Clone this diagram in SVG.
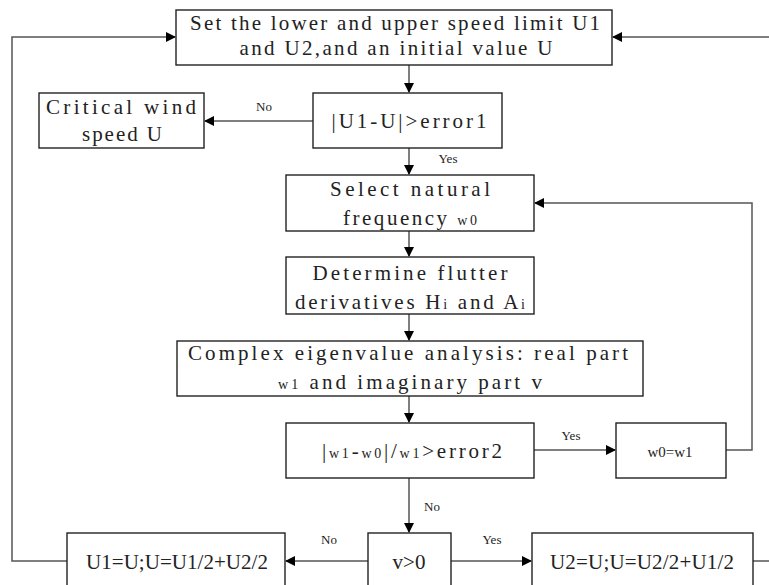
<svg xmlns="http://www.w3.org/2000/svg" width="769" height="585" viewBox="0 0 769 585">
<style>
.box{fill:#fff;stroke:#222;stroke-width:1.4}
.t{font-family:"Liberation Serif","DejaVu Serif",serif;font-size:21px;fill:#222;text-anchor:middle}
.s{font-size:14px}
.lb{font-family:"Liberation Serif","DejaVu Serif",serif;font-size:13px;fill:#222;text-anchor:middle}
.c{fill:none;stroke:#555;stroke-width:1.5}
</style>
<defs>
<marker id="ah" markerWidth="10" markerHeight="10" refX="9" refY="5" orient="auto" markerUnits="userSpaceOnUse">
<path d="M0,0 L10,5 L0,10 Z" fill="#000"/>
</marker>
</defs>
<g id="connectors">
<path class="c" d="M409,65 V92" marker-end="url(#ah)"/>
<path class="c" d="M313,121 H205" marker-end="url(#ah)"/>
<path class="c" d="M409,148 V174" marker-end="url(#ah)"/>
<path class="c" d="M409,231 V256" marker-end="url(#ah)"/>
<path class="c" d="M409,314 V340" marker-end="url(#ah)"/>
<path class="c" d="M409,396 V422" marker-end="url(#ah)"/>
<path class="c" d="M534,450 H615" marker-end="url(#ah)"/>
<path class="c" d="M726,450 H752 V203 H535" marker-end="url(#ah)"/>
<path class="c" d="M409,478 V532" marker-end="url(#ah)"/>
<path class="c" d="M368,561 H286" marker-end="url(#ah)"/>
<path class="c" d="M451,561 H531" marker-end="url(#ah)"/>
<path class="c" d="M67,561 H12 V37 H175" marker-end="url(#ah)"/>
<path class="c" d="M753,561 H769"/>
<path class="c" d="M769,37 H613" marker-end="url(#ah)"/>
<text class="lb" x="264" y="111">No</text>
<text class="lb" x="448" y="163">Yes</text>
<text class="lb" x="571" y="440">Yes</text>
<text class="lb" x="432" y="511">No</text>
<text class="lb" x="329" y="544">No</text>
<text class="lb" x="492" y="544">Yes</text>
</g>
<g id="n-start">
<rect class="box" x="176" y="10" width="436" height="55"/>
<text class="t" x="395" y="30" textLength="410" lengthAdjust="spacing">Set the lower and upper speed limit U1</text>
<text class="t" x="396" y="55" textLength="313" lengthAdjust="spacing">and U2,and an initial value U</text>
</g>
<g id="n-err1">
<rect class="box" x="313" y="93" width="189" height="55"/>
<text class="t" x="409" y="128" textLength="155" lengthAdjust="spacing">|U1-U|&gt;error1</text>
</g>
<g id="n-critical">
<rect class="box" x="39" y="93" width="165" height="55"/>
<text class="t" x="121" y="114" textLength="150" lengthAdjust="spacing">Critical wind</text>
<text class="t" x="122" y="141" textLength="80" lengthAdjust="spacing">speed U</text>
</g>
<g id="n-select">
<rect class="box" x="286" y="175" width="248" height="56"/>
<text class="t" x="410" y="196" textLength="160" lengthAdjust="spacing">Select natural</text>
<text class="t" x="410" y="225" textLength="134" lengthAdjust="spacing">frequency <tspan class="s">w0</tspan></text>
</g>
<g id="n-determine">
<rect class="box" x="286" y="257" width="248" height="57"/>
<text class="t" x="410" y="280" textLength="195" lengthAdjust="spacing">Determine flutter</text>
<text class="t" x="410" y="309" textLength="230" lengthAdjust="spacing">derivatives H<tspan class="s">i</tspan> and A<tspan class="s">i</tspan></text>
</g>
<g id="n-complex">
<rect class="box" x="177" y="341" width="466" height="55"/>
<text class="t" x="408" y="360" textLength="440" lengthAdjust="spacing">Complex eigenvalue analysis: real part</text>
<text class="t" x="410" y="389" textLength="264" lengthAdjust="spacing"><tspan class="s">w1</tspan> and imaginary part v</text>
</g>
<g id="n-err2">
<rect class="box" x="286" y="423" width="248" height="55"/>
<text class="t" x="412" y="458" textLength="180" lengthAdjust="spacing">|<tspan class="s">w1</tspan>-<tspan class="s">w0</tspan>|/<tspan class="s">w1</tspan>&gt;error2</text>
</g>
<g id="n-update">
<rect class="box" x="616" y="423" width="110" height="55"/>
<text class="t" x="670" y="457" style="font-size:15px">w0=w1</text>
</g>
<g id="n-v">
<rect class="box" x="368" y="533" width="83" height="60"/>
<text class="t" x="409" y="569">v&gt;0</text>
</g>
<g id="n-u1">
<rect class="box" x="67" y="533" width="218" height="60"/>
<text class="t" x="177" y="569" textLength="182" lengthAdjust="spacing">U1=U;U=U1/2+U2/2</text>
</g>
<g id="n-u2">
<rect class="box" x="532" y="533" width="221" height="60"/>
<text class="t" x="642" y="569" textLength="184" lengthAdjust="spacing">U2=U;U=U2/2+U1/2</text>
</g>
</svg>
